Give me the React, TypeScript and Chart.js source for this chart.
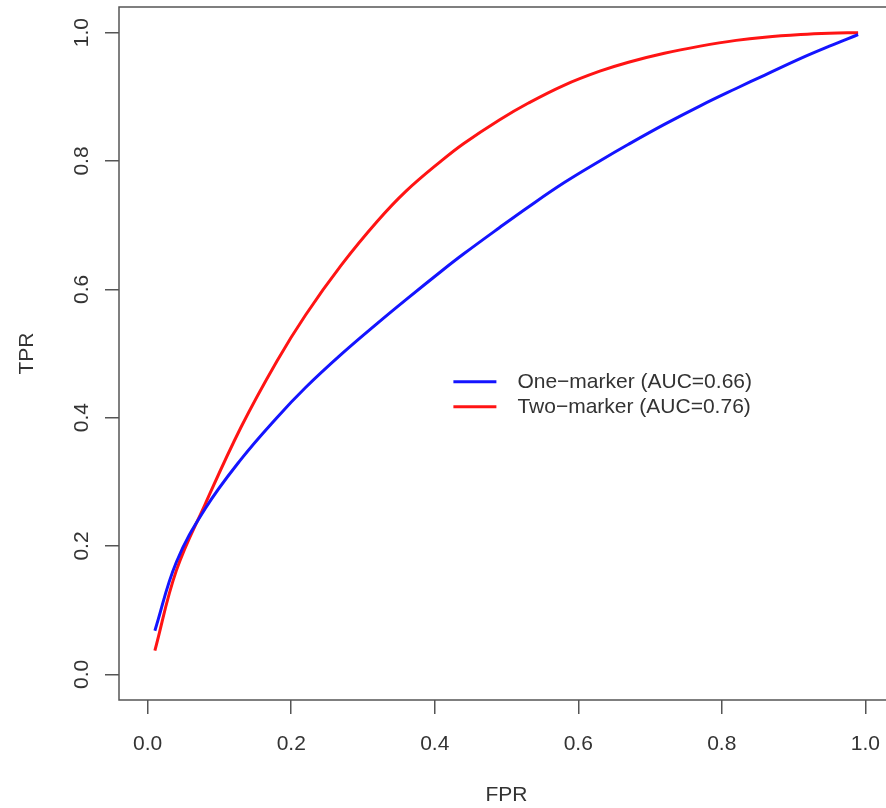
import React, { useEffect, useRef } from "react";
import { Chart, registerables } from "chart.js";

Chart.register(...registerables);

// ---- data ----
const fpr = [0.01, 0.04, 0.08, 0.13, 0.18, 0.22, 0.27, 0.32, 0.36, 0.41, 0.44, 0.49, 0.53, 0.58, 0.63, 0.67, 0.72, 0.77, 0.82, 0.86, 0.91, 0.95, 0.99];
const oneMarkerTpr = [0.068, 0.175, 0.258, 0.335, 0.4, 0.447, 0.499, 0.547, 0.584, 0.629, 0.655, 0.696, 0.728, 0.766, 0.8, 0.826, 0.857, 0.886, 0.913, 0.934, 0.96, 0.979, 0.997];
const twoMarkerTpr = [0.037, 0.162, 0.265, 0.385, 0.488, 0.56, 0.638, 0.706, 0.753, 0.801, 0.827, 0.864, 0.89, 0.918, 0.94, 0.954, 0.968, 0.979, 0.988, 0.993, 0.997, 0.999, 1.0];
const seriesLabels = ["One\u2212marker (AUC=0.66)", "Two\u2212marker (AUC=0.76)"];
const seriesColors = ["#1414ff", "#ff1414"];
const xTicks = [0, 0.2, 0.4, 0.6, 0.8, 1.0];
const yTicks = [0, 0.2, 0.4, 0.6, 0.8, 1.0];
const xTitle = "FPR";
const yTitle = "TPR";

const FONT = "'Liberation Sans', Arial, Helvetica, sans-serif";
const TEXT = "#333333";
const AXIS = "#555555";
const LEGEND_X = 0.426;
const LEGEND_Y = 0.456;

const boxPlugin = {
  id: "rBox",
  afterDatasetsDraw(chart: any) {
    const { ctx, chartArea } = chart;
    ctx.save();
    ctx.strokeStyle = AXIS;
    ctx.lineWidth = 1.5;
    ctx.strokeRect(chartArea.left, chartArea.top, chartArea.right - chartArea.left, chartArea.bottom - chartArea.top);
    ctx.restore();
  },
};

const legendPlugin = {
  id: "rLegend",
  afterDraw(chart: any) {
    const { ctx } = chart;
    const xs = chart.scales.x;
    const ys = chart.scales.y;
    const x0 = xs.getPixelForValue(LEGEND_X);
    const y0 = ys.getPixelForValue(LEGEND_Y);
    chart.data.datasets.forEach((ds: any, i: number) => {
      const yy = y0 + i * 25;
      ctx.save();
      ctx.strokeStyle = ds.borderColor;
      ctx.lineWidth = 3;
      ctx.beginPath();
      ctx.moveTo(x0, yy);
      ctx.lineTo(x0 + 43, yy);
      ctx.stroke();
      ctx.fillStyle = TEXT;
      ctx.font = `21px ${FONT}`;
      ctx.textBaseline = "middle";
      ctx.textAlign = "left";
      ctx.fillText(ds.label, x0 + 64, yy);
      ctx.restore();
    });
  },
};

export default function App() {
  const ref = useRef<HTMLCanvasElement | null>(null);

  useEffect(() => {
    if (!ref.current) return;
    const mk = (ys: number[]) => fpr.map((x, i) => ({ x, y: ys[i] }));
    const chart = new Chart(ref.current, {
      type: "line",
      data: {
        datasets: [
          {
            label: seriesLabels[0],
            data: mk(oneMarkerTpr),
            borderColor: seriesColors[0],
            borderWidth: 3,
            pointRadius: 0,
            tension: 0.4,
            fill: false,
          },
          {
            label: seriesLabels[1],
            data: mk(twoMarkerTpr),
            borderColor: seriesColors[1],
            borderWidth: 3,
            pointRadius: 0,
            tension: 0.4,
            fill: false,
          },
        ],
      },
      options: {
        responsive: false,
        animation: false,
        devicePixelRatio: 1,
        layout: { padding: { top: 7, right: 6, left: 0, bottom: 0 } },
        plugins: {
          legend: { display: false },
          tooltip: { enabled: false },
        },
        scales: {
          x: {
            type: "linear",
            min: -0.04,
            max: 1.04,
            afterBuildTicks: (s: any) => {
              s.ticks = xTicks.map((v) => ({ value: v }));
            },
            afterFit: (s: any) => {
              s.height = 108;
              s.paddingLeft = 0;
              s.paddingRight = 0;
            },
            grid: { drawOnChartArea: false, drawTicks: true, tickLength: 14, color: AXIS, lineWidth: 1.5 },
            border: { display: false },
            ticks: {
              color: TEXT,
              font: { family: FONT, size: 21 },
              padding: 18,
              maxRotation: 0,
              autoSkip: false,
              callback: (v: any) => Number(v).toFixed(1),
            },
            title: {
              display: true,
              text: xTitle,
              color: TEXT,
              font: { family: FONT, size: 21 },
              padding: { top: 0, bottom: 0 },
            },
          },
          y: {
            type: "linear",
            min: -0.04,
            max: 1.04,
            afterBuildTicks: (s: any) => {
              s.ticks = yTicks.map((v) => ({ value: v }));
            },
            afterFit: (s: any) => {
              s.width = 119;
              s.paddingTop = 0;
              s.paddingBottom = 0;
            },
            grid: { drawOnChartArea: false, drawTicks: true, tickLength: 14, color: AXIS, lineWidth: 1.5 },
            border: { display: false },
            ticks: {
              color: TEXT,
              font: { family: FONT, size: 21 },
              padding: 8,
              minRotation: 90,
              maxRotation: 90,
              crossAlign: "center",
              autoSkip: false,
              callback: (v: any) => Number(v).toFixed(1),
            },
            title: {
              display: true,
              text: yTitle,
              color: TEXT,
              font: { family: FONT, size: 21 },
              padding: { top: 15, bottom: 0 },
            },
          },
        },
      },
      plugins: [boxPlugin, legendPlugin],
    } as any);
    return () => chart.destroy();
  }, []);

  return (
    <div style={{ position: "fixed", left: 0, top: 0, width: 886, height: 808, overflow: "hidden", background: "#fff" }}>
      <canvas ref={ref} width={900} height={808} style={{ display: "block" }} />
    </div>
  );
}
